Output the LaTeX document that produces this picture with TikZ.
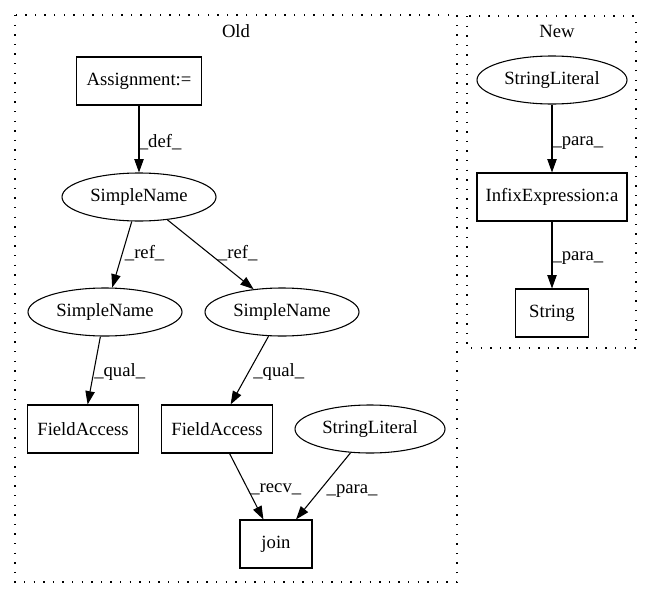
\documentclass[tikz,border=0pt]{standalone}
\usepackage{fontspec}
\setmainfont{Liberation Serif}
\usetikzlibrary{shapes,arrows.meta}
\tikzstyle{bx}=[rectangle,draw=black,line width=.8pt,minimum height=36pt,inner sep=1pt,font=\fontsize{14}{16}\selectfont]
\tikzstyle{el}=[ellipse,draw=black,line width=.8pt,minimum height=36pt,inner sep=1pt,font=\fontsize{14}{16}\selectfont]
\tikzstyle{ed}=[line width=.8pt,-{Triangle[length=10pt,width=7pt]}]
\tikzstyle{lb}=[anchor=west,inner sep=0pt,font=\fontsize{14}{16}\selectfont]
\tikzstyle{cl}=[draw=black,line width=1.1pt,dash pattern=on 1pt off 6.2pt]
\tikzstyle{tl}=[inner sep=0pt,font=\fontsize{14}{16}\selectfont]

\begin{document}
\begin{tikzpicture}[x=.75pt,y=-.75pt]
\useasboundingbox (0,0) rectangle (653,596);
\draw[cl] (15,15) rectangle (457,582);
\draw[cl] (467,16) rectangle (636,348);
\node[tl] (old) at (236,31) {Old};
\node[tl] (new) at (557,31) {New};

\node[bx,minimum width=93.75pt] (assign) at (139,81) {Assignment:=};
\node[el,minimum width=115.5pt] (sn0) at (139,197) {SimpleName};
\node[el,minimum width=115.5pt] (sn1) at (105,312) {SimpleName};
\node[el,minimum width=115.5pt] (sn2) at (282,312) {SimpleName};
\node[bx,minimum width=83.25pt] (fa1) at (83,429) {FieldAccess};
\node[bx,minimum width=83.25pt] (fa2) at (217,429) {FieldAccess};
\node[el,minimum width=112.5pt] (sl1) at (370,429) {StringLiteral};
\node[bx,minimum width=54pt] (join) at (276,544) {join};

\node[el,minimum width=112.5pt] (sl2) at (552,80) {StringLiteral};
\node[bx,minimum width=112.5pt] (infix) at (552,197) {InfixExpression:a};
\node[bx,minimum width=54.75pt] (str) at (552,313) {String};

\draw[ed] (assign) -- node[lb,pos=.55,xshift=-.5pt] {\_def\_} (sn0);
\draw[ed] (sn0) -- node[lb,pos=.48,xshift=1.5pt] {\_ref\_} (sn1);
\draw[ed] (sn0) -- node[lb,pos=.48,xshift=6.5pt] {\_ref\_} (sn2);
\draw[ed] (sn1) -- node[lb,pos=.52] {\_qual\_} (fa1);
\draw[ed] (sn2) -- node[lb,pos=.52,xshift=3pt] {\_qual\_} (fa2);
\draw[ed] (fa2) -- node[lb,pos=.54,xshift=1.5pt] {\_recv\_} (join);
\draw[ed] (sl1) -- node[lb,pos=.57,xshift=5pt] {\_para\_} (join);
\draw[ed] (sl2) -- node[lb,pos=.57] {\_para\_} (infix);
\draw[ed] (infix) -- node[lb,pos=.54] {\_para\_} (str);
\end{tikzpicture}
\end{document}
